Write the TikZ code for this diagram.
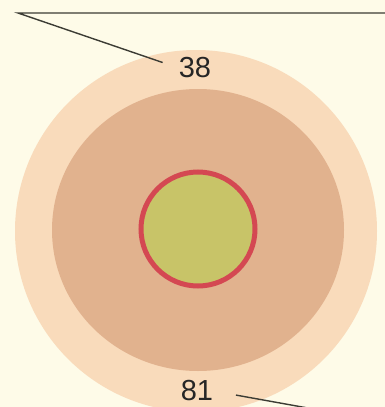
\documentclass[tikz,border=0pt]{standalone}
\usepackage{fontspec}
\setmainfont{Liberation Sans}
\definecolor{bgc}{RGB}{254,251,232}
\definecolor{outerc}{RGB}{249,219,187}
\definecolor{innerc}{RGB}{225,178,142}
\definecolor{greenc}{RGB}{200,196,104}
\definecolor{ringc}{RGB}{212,72,82}
\definecolor{linec}{RGB}{60,60,52}
\tikzset{
  leader/.style={draw=linec, line width=1.4pt},
  numlabel/.style={font=\fontsize{29}{34}\selectfont, text=black!85, inner sep=0pt}
}
\begin{document}
\begin{tikzpicture}[x=1pt,y=-1pt]
\useasboundingbox (0,0) rectangle (385,407);
\clip (0,0) rectangle (385,407);
\fill[bgc] (0,0) rectangle (385,407);
\fill[outerc] (196,231) circle (181);
\fill[innerc] (198,230) ellipse (146 and 141);
\fill[greenc] (198,229) circle (57);
\draw[ringc, line width=5pt] (198,229) circle (57);
\node[numlabel] (n38) at (195,68) {38};
\node[numlabel] (n81) at (197,391) {81};
\coordinate (tl) at (18,13);
\coordinate (tr) at (390,13);
\coordinate (b2) at (330,412);
\draw[leader, shorten >=17pt] (tr) -- (tl) -- (n38.west);
\draw[leader, shorten <=23pt] (n81.east) -- (b2);
\end{tikzpicture}
\end{document}
